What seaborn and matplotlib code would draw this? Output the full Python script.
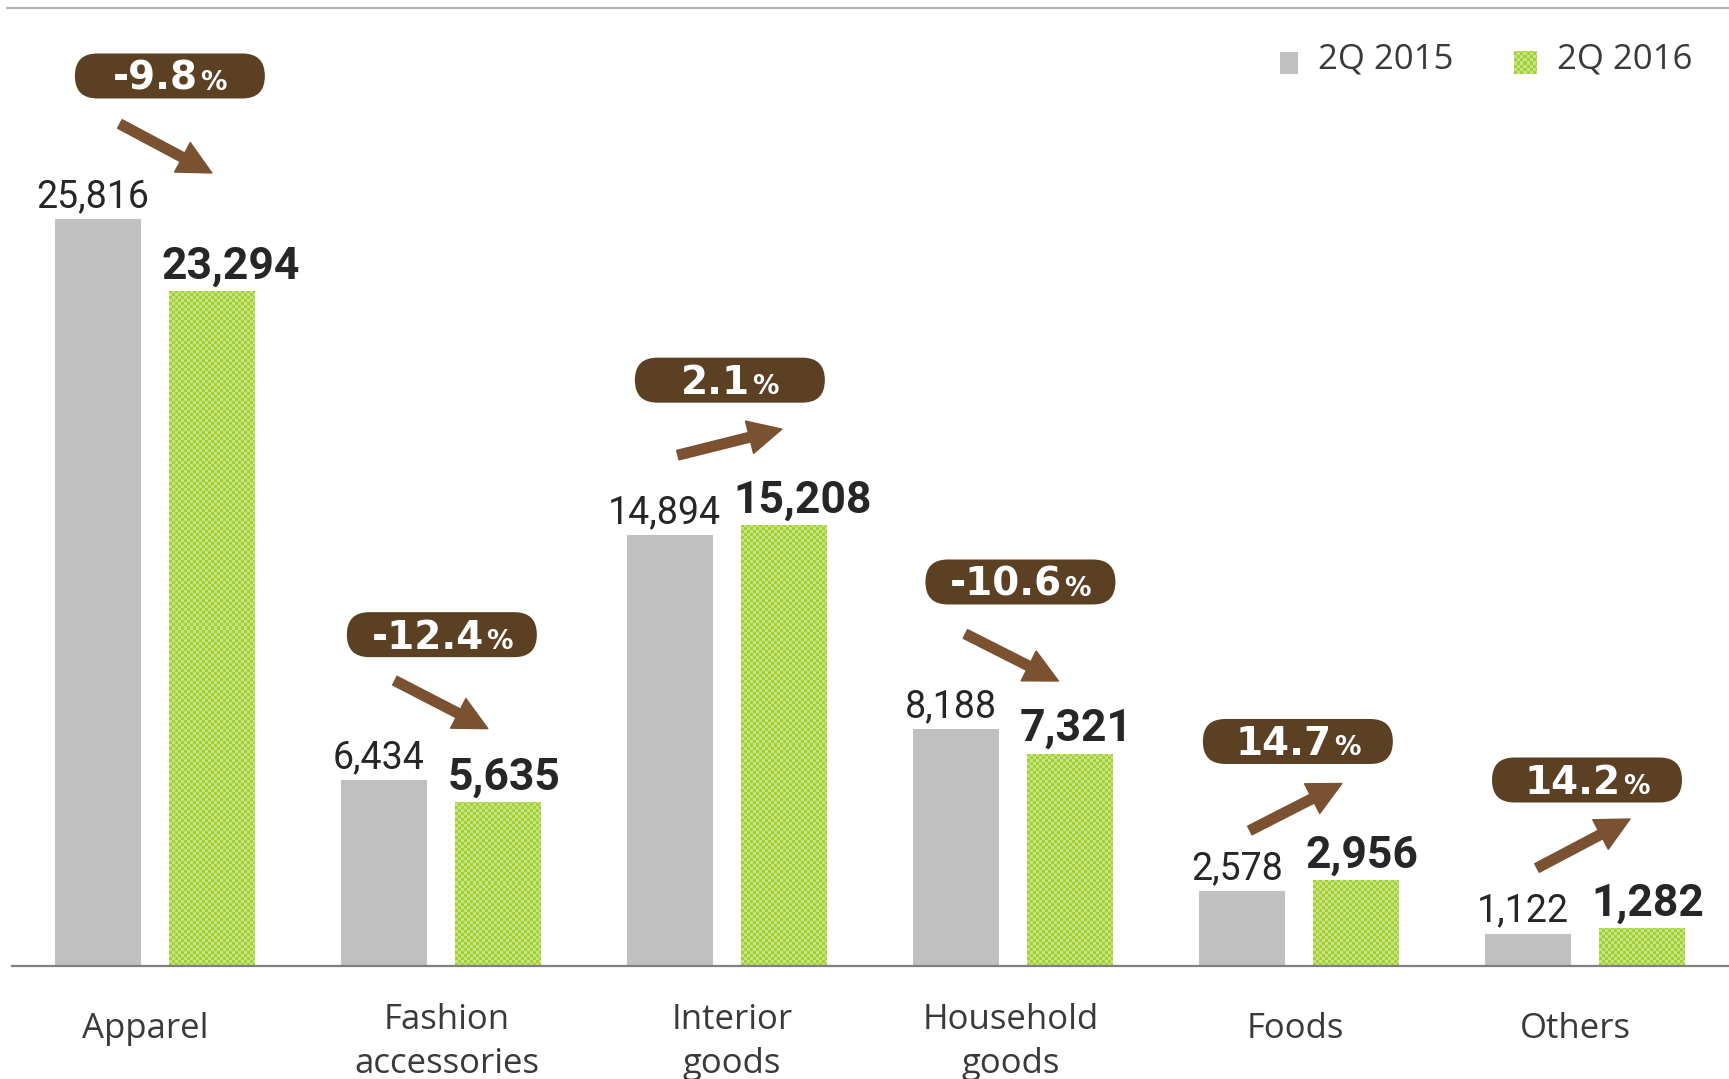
import numpy as np
import pandas as pd
import matplotlib
matplotlib.use("Agg")
import matplotlib.pyplot as plt
import seaborn as sns
from matplotlib.patches import FancyBboxPatch, FancyArrowPatch, Rectangle, ArrowStyle
from matplotlib.transforms import IdentityTransform
from matplotlib.colors import to_rgb

# ---------------- data ----------------
categories = ["Apparel", "Fashion\naccessories", "Interior\ngoods",
              "Household\ngoods", "Foods", "Others"]
series_names = ["2Q 2015", "2Q 2016"]
values_2015 = [25816, 6434, 14894, 8188, 2578, 1122]
values_2016 = [23294, 5635, 15208, 7321, 2956, 1282]
change_labels = ["-9.8", "-12.4", "2.1", "-10.6", "14.7", "14.2"]

# ---------------- layout / styles ----------------
pill_x = [0.052, 1.003, 2.010, 3.026, 3.996, 5.007]
pill_y = [30758, 11451, 20246, 13271, 7759, 6428]
arrow_offsets = [((-50, 48), (42, 97)), ((-47, 46), (46, 94)), ((-52, 75), (52, 49)),
                 ((-55, 52), (38, 99)), ((-48, 89), (44, 42)), ((-50, 88), (43, 39))]
cat_dx = [-10, 6, 5, -2, -4, -10]
GRAY = "#c0c0c0"
GREEN_D = "#a6d12a"
GREEN_L = "#c3e38c"
PILL = "#5c4024"
ARROW = "#7a5131"
TXT = "#262626"

W, H = 1729, 1079
sns.set_style("white")
plt.rcParams["font.family"] = ["Open Sans", "DejaVu Sans"]

fig = plt.figure(figsize=(W / 100, H / 100), dpi=100)
ax = fig.add_axes([12 / W, (H - 966) / H, (1728 - 12) / W, (966 - 8) / H])

df = pd.DataFrame({
    "category": categories * 2,
    "value": values_2015 + values_2016,
    "series": [series_names[0]] * 6 + [series_names[1]] * 6,
})
sns.barplot(data=df, x="category", y="value", hue="series",
            palette=[GRAY, GREEN_D], width=0.8, gap=0.25, errorbar=None,
            saturation=1, legend=False, ax=ax, edgecolor="none", linewidth=0)

YMAX = 33107
ax.set_xlim(-0.5, 5.5)
ax.set_ylim(0, YMAX)
ax.set_xlabel("")
ax.set_ylabel("")
ax.set_xticks([])
ax.set_yticks([])
for s in ["left", "right", "top"]:
    ax.spines[s].set_visible(False)
ax.spines["bottom"].set_color("#808080")
ax.spines["bottom"].set_linewidth(1.6)
# thin grey rule along the top of the chart
fig.add_artist(plt.Line2D([7, W], [H - 8, H - 8], transform=IdentityTransform(),
                          color="#b4b4b4", linewidth=1.6))

c1, c2 = np.array(to_rgb(GREEN_D)), np.array(to_rgb(GREEN_L))


def checker(wpx, hpx, cell=3):
    iy, ix = np.indices((max(int(round(hpx)), 1), max(int(round(wpx)), 1)))
    m = ((ix // cell) + (iy // cell)) % 2
    return np.where(m[..., None] == 0, c1, c2)


def data_to_px(x, y):
    return ax.transData.transform((x, y))


def px_to_data(xp, yp_top):
    return ax.transData.inverted().transform((xp, H - yp_top))


# checker texture on green bars
for p in ax.containers[1]:
    x0, y0, w, h = p.get_x(), p.get_y(), p.get_width(), p.get_height()
    (px0, py0), (px1, py1) = data_to_px(x0, y0), data_to_px(x0 + w, y0 + h)
    img = checker(px1 - px0, py1 - py0)
    ax.imshow(img, extent=(x0, x0 + w, y0, y0 + h), aspect="auto",
              interpolation="none", origin="lower", zorder=p.get_zorder() + 0.1)

# value labels
for p, v in zip(ax.containers[0], values_2015):
    ax.annotate(f"{v:,}", xy=(p.get_x() + p.get_width() / 2, p.get_height()),
                xytext=(-5, 12), textcoords="offset pixels", ha="center", va="baseline",
                fontfamily="Roboto", fontsize=27, color=TXT)
for p, v in zip(ax.containers[1], values_2016):
    ax.annotate(f"{v:,}", xy=(p.get_x(), p.get_height()),
                xytext=(-8, 13), textcoords="offset pixels", ha="left", va="baseline",
                fontfamily="Roboto", fontsize=32, fontweight="bold", color=TXT)

# category labels (baseline of the last line)
for i, cat in enumerate(categories):
    two = "\n" in cat
    ybase = 1073 if two else 1038
    xp = data_to_px(i, 0)[0] + cat_dx[i]
    ax.text(xp, H - ybase, cat, transform=IdentityTransform(), ha="center", va="baseline",
            fontsize=25, color="#3a3a3a", linespacing=1.4, clip_on=False)

# legend (manual)
ax.add_patch(Rectangle((1280, H - 74), 18, 22, transform=IdentityTransform(),
                       facecolor=GRAY, edgecolor="none", clip_on=False))
gx0, gy0 = px_to_data(1514, 74)
gx1, gy1 = px_to_data(1536, 52)
ax.imshow(checker(22, 22), extent=(gx0, gx1, gy0, gy1), aspect="auto",
          interpolation="none", origin="lower", zorder=3)
ax.text(1318, H - 69, series_names[0], transform=IdentityTransform(), ha="left",
        va="baseline", fontsize=25, color="#3a3a3a")
ax.text(1557, H - 69, series_names[1], transform=IdentityTransform(), ha="left",
        va="baseline", fontsize=25, color="#3a3a3a")

# pills + arrows
renderer = fig.canvas.get_renderer()
PW, PH = 190, 45
for i in range(6):
    cx, cy = data_to_px(pill_x[i], pill_y[i])
    ax.add_patch(FancyBboxPatch((cx - PW / 2, cy - PH / 2), PW, PH,
                                boxstyle=f"round,pad=0,rounding_size={PH / 2}",
                                transform=IdentityTransform(), facecolor=PILL,
                                edgecolor="none", clip_on=False, zorder=5))
    t1 = ax.text(0, 0, change_labels[i], transform=IdentityTransform(), ha="left",
                 va="baseline", fontfamily="DejaVu Sans", fontweight="bold",
                 fontsize=28, color="white", zorder=6)
    t2 = ax.text(0, 0, "%", transform=IdentityTransform(), ha="left", va="baseline",
                 fontfamily="DejaVu Sans", fontweight="bold", fontsize=19,
                 color="white", zorder=6)
    w1 = t1.get_window_extent(renderer).width
    w2 = t2.get_window_extent(renderer).width
    gap = 2
    x0 = cx - (w1 + gap + w2) / 2
    base = cy - 14
    t1.set_position((x0, base))
    t2.set_position((x0 + w1 + gap, base))

    cx_top = cx
    cy_top = H - cy
    (sdx, sdy), (edx, edy) = arrow_offsets[i]
    a = px_to_data(cx_top + sdx, cy_top + sdy)
    b = px_to_data(cx_top + edx, cy_top + edy)
    arr = FancyArrowPatch(tuple(a), tuple(b),
                          arrowstyle=ArrowStyle.Simple(head_length=24, head_width=24,
                                                       tail_width=7),
                          mutation_scale=1, color=ARROW, shrinkA=0, shrinkB=0,
                          zorder=5, clip_on=False)
    ax.add_patch(arr)

ax.set_xlim(-0.5, 5.5)
ax.set_ylim(0, YMAX)
fig.savefig("out.png", dpi=100, facecolor="white")
